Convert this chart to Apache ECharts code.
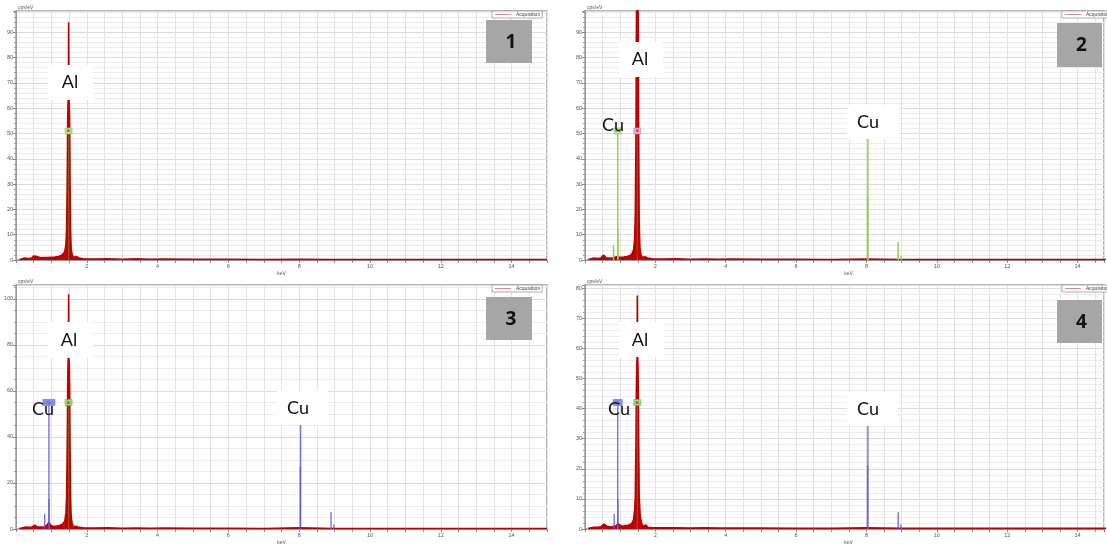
<!DOCTYPE html>
<html><head><meta charset="utf-8">
<script src="https://cdn.jsdelivr.net/npm/echarts@6/dist/echarts.min.js"></script>
<style>html,body{margin:0;padding:0;background:#fff}#c{width:1107px;height:546px}</style>
</head><body><div id="c"></div>
<script>
// ---- data (keV, cps/eV) ----
const xTickLabels = [2, 4, 6, 8, 10, 12, 14];
const xMax = [15, 14.75, 15, 14.75];
const yMax = [98.4, 98.4, 106, 81];
const yInterval = [10, 10, 20, 10];
const ySplit = [5, 5, 4, 5];

const spectrum1 = [[0.10,0.2],[0.15,0.6],[0.25,0.8],[0.35,0.6],[0.45,0.8],[0.50,1.6],[0.53,2.3],[0.56,1.5],[0.60,0.9],[0.70,0.9],[0.80,1.0],[0.90,1.0],[1.00,1.1],[1.10,1.2],[1.20,1.4],[1.28,1.8],[1.34,2.5],[1.38,3.5],[1.41,6],[1.43,12],[1.45,35],[1.46,55],[1.47,62],[1.48,64],[1.487,94],[1.495,64],[1.505,62],[1.515,55],[1.525,35],[1.54,12],[1.56,4],[1.59,2],[1.63,1],[1.70,1.4],[1.74,1.8],[1.78,0.8],[1.9,0.5],[2.2,0.4],[2.6,0.5],[3.0,0.3],[3.4,0.5],[3.8,0.3],[4.2,0.4],[5,0.3],[6,0.3],[7,0.2],[8,0.3],[9,0.2],[10,0.2],[12,0.2],[15,0.2]];
const spectrum2 = [[0.10,0.2],[0.15,0.6],[0.25,0.8],[0.35,0.6],[0.45,0.8],[0.50,1.5],[0.53,2.0],[0.56,1.3],[0.60,0.8],[0.70,0.8],[0.80,0.9],[0.90,1.3],[0.93,1.6],[0.97,1.1],[1.10,1.2],[1.20,1.4],[1.28,1.8],[1.34,2.5],[1.38,4],[1.41,8],[1.43,18],[1.45,50],[1.46,90],[1.47,110],[1.48,120],[1.487,130],[1.495,120],[1.505,110],[1.515,90],[1.525,50],[1.54,15],[1.56,5],[1.59,2],[1.63,1],[1.70,1.3],[1.74,1.6],[1.78,0.8],[1.9,0.5],[2.2,0.4],[2.6,0.5],[3.0,0.3],[3.4,0.4],[3.8,0.3],[4.2,0.4],[5,0.3],[6,0.3],[7,0.2],[8,0.4],[9,0.2],[10,0.2],[12,0.2],[15,0.2]];
const spectrum3 = [[0.10,0.2],[0.15,0.6],[0.25,0.8],[0.35,0.7],[0.45,0.8],[0.50,1.3],[0.53,1.7],[0.56,1.2],[0.60,0.8],[0.70,0.8],[0.80,0.9],[0.88,1.8],[0.93,3.0],[0.98,1.6],[1.05,1.1],[1.15,1.3],[1.25,1.6],[1.32,2.2],[1.38,3.5],[1.41,7],[1.43,14],[1.45,40],[1.46,62],[1.47,72],[1.48,75],[1.487,102],[1.495,75],[1.505,72],[1.515,62],[1.525,40],[1.54,14],[1.56,5],[1.59,2],[1.63,1],[1.70,1.2],[1.74,1.5],[1.78,0.7],[1.9,0.5],[2.2,0.4],[2.6,0.5],[3.0,0.3],[3.4,0.4],[3.8,0.3],[4.2,0.4],[5,0.3],[6,0.3],[7,0.2],[8,0.5],[9,0.2],[10,0.2],[12,0.2],[15,0.2]];
const spectrum4 = [[0.10,0.2],[0.15,0.5],[0.25,0.6],[0.35,0.6],[0.45,0.7],[0.50,1.2],[0.54,1.6],[0.58,1.0],[0.65,0.7],[0.75,0.7],[0.85,0.9],[0.90,1.4],[0.94,1.7],[0.98,1.2],[1.05,0.9],[1.15,1.1],[1.25,1.3],[1.32,1.8],[1.38,3],[1.41,6],[1.43,11],[1.45,30],[1.46,46],[1.47,54],[1.48,57],[1.487,77.5],[1.495,57],[1.505,54],[1.515,46],[1.525,30],[1.54,11],[1.57,4],[1.61,2],[1.65,1],[1.70,1.0],[1.74,1.3],[1.78,0.6],[1.9,0.5],[2.2,0.4],[2.6,0.4],[3.0,0.3],[3.4,0.4],[3.8,0.3],[4.2,0.3],[5,0.3],[6,0.2],[7,0.2],[8,0.4],[9,0.2],[10,0.2],[12,0.2],[15,0.2]];

// element marker lines (keV, relative height)
const alLine1 = [[1.486,51]];
const alLine2 = [[1.486,51]];
const alLine3 = [[1.486,55]];
const alLine4 = [[1.486,42]];
const cuLines2 = [[0.81,6],[0.93,51],[0.935,12],[8.03,25],[8.04,48],[8.90,7],[8.98,1.5]];
const cuLines3 = [[0.81,6.5],[0.93,55],[0.935,13],[8.03,27],[8.04,46],[8.90,7.4],[8.98,2]];
const cuLines4 = [[0.83,5],[0.93,42],[0.935,10],[8.03,21],[8.04,34.6],[8.90,5.6],[8.98,1.5]];

const panelNumbers = ['1', '2', '3', '4'];
const seriesName = 'Acquisition';

// ---- layout ----
const grids = [
  {left:16, top:11, width:531, height:249},
  {left:585, top:11, width:522, height:249},
  {left:16, top:285, width:531, height:248},
  {left:585, top:285, width:522, height:248}
];
const legendLeft = [492, 1062, 492, 1062];
const RED = '#c00000', GREEN = '#92d050', BLUE = '#5a5ad6';

const xAxes = grids.map((g,i) => ({
  type:'value', gridIndex:i, min:0, max:xMax[i], interval:0.5,
  name:'keV', nameLocation:'middle', nameGap:11,
  nameTextStyle:{fontSize:5, color:'#555', padding:[0, i%2 ? -8 : 0, 0, 0]},
  axisLine:{lineStyle:{color:'#999', width:1}},
  axisTick:{show:true, length:3, lineStyle:{color:'#888'}},
  axisLabel:{fontSize:5.5, color:'#555', margin:3,
    formatter: v => xTickLabels.indexOf(v) >= 0 ? String(v) : ''},
  splitLine:{show:true, lineStyle:{color:'#e3e3e3', width:1}}
}));
const yAxes = grids.map((g,i) => ({
  type:'value', gridIndex:i, min:0, max:yMax[i], interval:yInterval[i],
  name:'cps/eV', nameLocation:'end', nameGap:1,
  nameTextStyle:{fontSize:5, color:'#555', align:'left', padding:[0,0,0,2]},
  axisLine:{show:true, lineStyle:{color:'#999', width:1}},
  axisTick:{show:true, length:3, lineStyle:{color:'#888'}},
  minorTick:{show:true, splitNumber:ySplit[i], length:2, lineStyle:{color:'#999'}},
  axisLabel:{fontSize:5.5, color:'#555', margin:3, showMaxLabel:false},
  splitLine:{show:true, lineStyle:{color:'#dcdcdc'}},
  minorSplitLine:{show:true, lineStyle:{color:'#ececec'}}
}));

function spikeSeries(data, idx, color, opacity, w) {
  return {
    type:'custom', xAxisIndex:idx, yAxisIndex:idx, data:data, clip:true, z:5,
    silent:true,
    renderItem:(params, api) => {
      const x = api.value(0), h = api.value(1);
      const p0 = api.coord([x,0]), p1 = api.coord([x,h]);
      return {type:'line', shape:{x1:p0[0], y1:p0[1], x2:p1[0], y2:p1[1]},
        style:{stroke:color, lineWidth:w||1, opacity:opacity}};
    }
  };
}
function boxSeries(pt, idx, label, fill, stroke, bw) {
  return {
    type:'custom', xAxisIndex:idx, yAxisIndex:idx, data:[pt], z:8, silent:true,
    renderItem:(params, api) => {
      const c = api.coord([api.value(0), api.value(1)]);
      const w = bw || 7, h = 6;
      return {type:'group', children:[
        {type:'rect', shape:{x:c[0]-w/2, y:c[1]-h/2, width:w, height:h},
          style:{fill:fill, stroke:stroke, lineWidth:0.6}},
        {type:'text', style:{text:label, x:c[0], y:c[1], align:'center', verticalAlign:'middle',
          fontSize:4, fill:'#444'}}
      ]};
    }
  };
}
function specSeries(data, idx) {
  return {
    name:seriesName, type:'line', xAxisIndex:idx, yAxisIndex:idx, data:data,
    showSymbol:false, symbol:'none', z:3, clip:true,
    lineStyle:{color:RED, width:1.6},
    itemStyle:{color:'#e07a7a'},
    areaStyle:{color:RED, opacity:1}
  };
}

const series = [
  specSeries(spectrum1,0), specSeries(spectrum2,1), specSeries(spectrum3,2), specSeries(spectrum4,3),
  spikeSeries(alLine1,0,'#6aa832',0.55,1.2),
  spikeSeries(alLine2,1,'#6aa832',0.45,1.2),
  spikeSeries(alLine3,2,'#6aa832',0.5,1.2),
  spikeSeries(alLine4,3,'#6aa832',0.5,1.2),
  spikeSeries(cuLines2,1,GREEN,1,1.5),
  spikeSeries(cuLines3,2,BLUE,0.85,1.4),
  spikeSeries(cuLines4,3,BLUE,0.85,1.4),
  boxSeries(alLine1[0],0,'Al','#bfe58f','#8cc05a'),
  boxSeries(alLine2[0],1,'Al','#f2a8cf','#d87aa8'),
  boxSeries(cuLines2[1],1,'Cu','#bfe58f','#8cc05a'),
  boxSeries(alLine3[0],2,'Al','#9fe07a','#6cb04a'),
  boxSeries(cuLines3[1],2,'Cu','#8c8cf0','#6464d8',12),
  boxSeries(alLine4[0],3,'Al','#9fe07a','#6cb04a'),
  boxSeries(cuLines4[1],3,'Cu','#8c8cf0','#6464d8',9)
];

const legends = grids.map((g,i) => ({
  data:[seriesName], left:legendLeft[i], top:g.top, orient:'horizontal',
  icon:'rect', itemWidth:16, itemHeight:1, itemGap:2,
  itemStyle:{color:'#e08a8a'},
  textStyle:{fontSize:5, color:'#444'},
  borderColor:'#999', borderWidth:0.8, backgroundColor:'#fff',
  padding:[1,2,1,3], selectedMode:false
}));

// annotation texts (pixel positions)
const annotations = [
  {t:'Al', x:70, y:82, box:[48,65,45,35]},
  {t:'Al', x:640, y:59, box:[619,42,44,35]},
  {t:'Cu', x:613, y:125, box:null},
  {t:'Cu', x:868, y:122, box:[847,105,52,34]},
  {t:'Al', x:69, y:340, box:[48,322,45,36]},
  {t:'Cu', x:43, y:409, box:null},
  {t:'Cu', x:298, y:408, box:[277,390,51,35]},
  {t:'Al', x:640, y:340, box:[619,322,45,35]},
  {t:'Cu', x:619, y:409, box:null},
  {t:'Cu', x:868, y:409, box:[847,392,51,34]}
];
const numBoxes = [
  {x:486, y:20, w:46, h:43},
  {x:1057, y:23, w:45, h:44},
  {x:486, y:297, w:46, h:43},
  {x:1057, y:300, w:45, h:43}
];
const graphic = [];
annotations.forEach(a => {
  if (a.box) graphic.push({type:'rect', z:100, shape:{x:a.box[0], y:a.box[1], width:a.box[2], height:a.box[3]}, style:{fill:'#fff'}});
  graphic.push({type:'text', z:101, style:{text:a.t, x:a.x, y:a.y, align:'center', verticalAlign:'middle',
    fontSize:18, fontFamily:'Lato, "Open Sans", sans-serif', fill:'#111'}});
});
numBoxes.forEach((b,i) => {
  graphic.push({type:'rect', z:100, shape:{x:b.x, y:b.y, width:b.w, height:b.h}, style:{fill:'#a6a6a6'}});
  graphic.push({type:'text', z:101, style:{text:panelNumbers[i], x:b.x+b.w/2+2, y:b.y+b.h/2+1, align:'center', verticalAlign:'middle',
    fontSize:19, fontWeight:'bold', fontFamily:'"Open Sans", Lato, sans-serif', fill:'#111'}});
});

const chart = echarts.init(document.getElementById('c'), null, {renderer:'canvas'});
chart.setOption({
  animation:false,
  backgroundColor:'#fff',
  grid: grids.map(g => Object.assign({show:true, borderColor:'#a0a0a0', borderWidth:1.5, backgroundColor:'#fff'}, g)),
  xAxis: xAxes, yAxis: yAxes, legend: legends, series: series, graphic: graphic
});
</script></body></html>
